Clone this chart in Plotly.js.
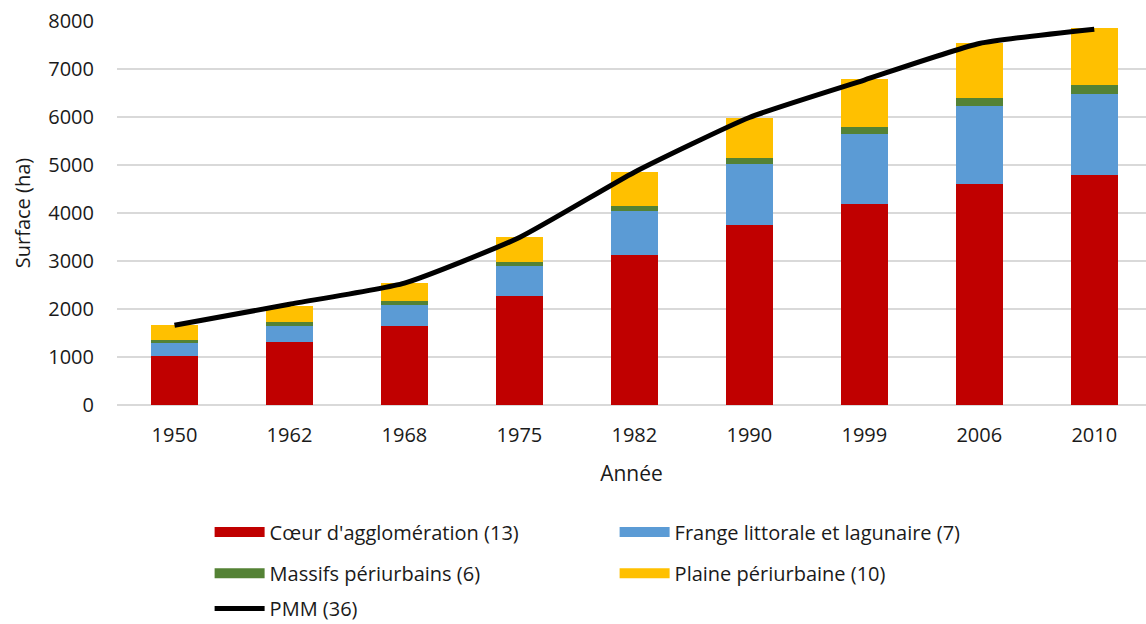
<!DOCTYPE html>
<html>
<head>
<meta charset="utf-8">
<script src="https://cdn.plot.ly/plotly-3.0.1.min.js"></script>
<style>html,body{margin:0;padding:0;background:#fff;}#chart{width:1146px;height:624px;}</style>
</head>
<body>
<div id="chart"></div>
<script>
const years = ['1950','1962','1968','1975','1982','1990','1999','2006','2010'];
const coeur = [1020, 1320, 1650, 2275, 3135, 3755, 4180, 4600, 4785];
const frange = [265, 335, 430, 630, 915, 1260, 1465, 1620, 1690];
const massifs = [70, 75, 80, 70, 105, 125, 145, 175, 185];
const plaine = [305, 335, 385, 515, 695, 845, 1005, 1145, 1190];
const pmm = [1660, 2100, 2540, 3490, 4850, 5990, 6770, 7530, 7830];

const names = ["Cœur d'agglomération (13)", "Frange littorale et lagunaire (7)", "Massifs périurbains (6)", "Plaine périurbaine (10)", "PMM (36)"];
const colors = ['#c00000', '#5b9bd5', '#548235', '#ffc000', '#000000'];

const font = "'Open Sans', 'Liberation Sans', sans-serif";
const series = [coeur, frange, massifs, plaine];
const legendIds = ['legend', 'legend', 'legend2', 'legend2'];
const traces = series.map((s, i) => ({
  type: 'bar', x: years, y: s, name: names[i], width: 0.41,
  marker: {color: colors[i], line: {width: 0}},
  showlegend: false, hoverinfo: 'y+name'
}));
traces.push({
  type: 'scatter', mode: 'lines', x: years, y: pmm, name: names[4],
  line: {color: '#000', width: 5, shape: 'spline', smoothing: 0.5},
  legend: 'legend3'
});
// legend-only swatches (wide rectangles) for the stacked series
series.forEach((s, i) => {
  traces.push({
    type: 'scatter', mode: 'lines', x: [years[0]], y: [null], name: names[i],
    line: {color: colors[i], width: 14}, legend: legendIds[i], hoverinfo: 'skip'
  });
});

const legBase = {
  orientation: 'h', xanchor: 'left', yanchor: 'middle', x: 0.09,
  font: {family: font, size: 20, color: '#1a1a1a'},
  entrywidth: 340, entrywidthmode: 'pixels', bgcolor: 'rgba(0,0,0,0)',
  traceorder: 'normal', itemwidth: 50
};

const layout = {
  width: 1146, height: 624,
  margin: {l: 117, r: 0, t: 21, b: 219, autoexpand: false},
  paper_bgcolor: '#fff', plot_bgcolor: '#fff',
  barmode: 'stack',
  font: {family: font, size: 20, color: '#1a1a1a'},
  xaxis: {
    type: 'category', range: [-0.5, 8.45],
    tickfont: {family: font, size: 20, color: '#1a1a1a'},
    ticks: 'outside', ticklen: 12, tickcolor: 'rgba(0,0,0,0)',
    showgrid: false, showline: false, zeroline: false,
    title: {text: 'Année', font: {family: font, size: 21, color: '#1a1a1a'}, standoff: 19}
  },
  yaxis: {
    range: [0, 8000], dtick: 1000, tickformat: 'd',
    tickfont: {family: font, size: 20, color: '#1a1a1a'},
    gridcolor: '#d9d9d9', gridwidth: 1.5, zeroline: true, zerolinecolor: '#d9d9d9', zerolinewidth: 1.5,
    showline: false, ticks: 'outside', ticklen: 18, tickcolor: 'rgba(0,0,0,0)',
    title: {text: 'Surface (ha)', font: {family: font, size: 20, color: '#1a1a1a'}, standoff: 12}
  },
  showlegend: true,
  legend: Object.assign({}, legBase, {y: -0.331}),
  legend2: Object.assign({}, legBase, {y: -0.438}),
  legend3: Object.assign({}, legBase, {y: -0.53})
};

Plotly.newPlot('chart', traces, layout, {displayModeBar: false, staticPlot: true});
</script>
</body>
</html>
